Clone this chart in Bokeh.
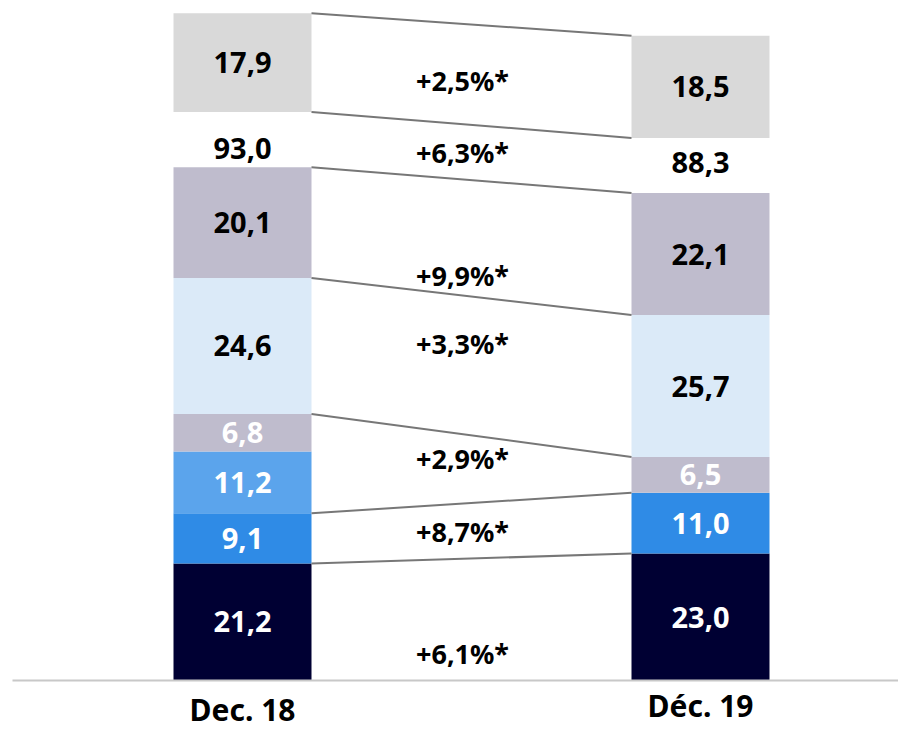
from bokeh.plotting import figure
from bokeh.models import Range1d
from bokeh.embed import file_html
from bokeh.resources import INLINE
from bokeh.core.properties import value
import numpy as np

# ---------------- data ----------------
categories = ["Dec. 18", "Déc. 19"]

dec18_values = [21.2, 9.1, 11.2, 6.8, 24.6, 20.1]
dec18_colors = ["#000033", "#2f8be6", "#5ba4ec", "#bfbccd", "#dbeaf8", "#bfbccd"]
dec18_label_colors = ["white", "white", "white", "white", "black", "black"]

dec19_values = [23.0, 11.0, 6.5, 25.7, 22.1]
dec19_colors = ["#000033", "#2f8be6", "#bfbccd", "#dbeaf8", "#bfbccd"]
dec19_label_colors = ["white", "white", "white", "black", "black"]

top_values = [17.9, 18.5]          # separate grey block above the total
top_color = "#d9d9d9"

growth_labels = ["+6,1%*", "+8,7%*", "+2,9%*", "+3,3%*", "+9,9%*", "+6,3%*", "+2,5%*"]

# ---------------- layout constants ----------------
W, H = 898, 730
PX = 5.52                        # pixels per unit
BASE = 680                       # pixel row of the zero line
GAP = 10.0                       # room for the total label
BAR_X = [242, 700]               # bar centres (pixel x)
BAR_W = 138
TOTAL_DY = [3.4, 5.5]            # total label above bar top
GROWTH_X = 462
GROWTH_Y = [4.9, 27.0, 40.2, 61.1, 73.4, 95.7, 108.7]
CAT_Y = [-5.3, -4.5]
FONT = "Noto Sans"

def fmt(v):
    return f"{v:.1f}".replace(".", ",")

p = figure(width=W, height=H, output_backend="svg", toolbar_location=None,
           x_range=Range1d(0, W), y_range=Range1d(-(H - BASE) / PX, BASE / PX),
           min_border=0, outline_line_color=None)
p.axis.visible = False
p.grid.visible = False
p.background_fill_color = "white"
p.border_fill_color = "white"

bars = [
    (dec18_values, dec18_colors, dec18_label_colors),
    (dec19_values, dec19_colors, dec19_label_colors),
]

levels = []
for i, (vals, cols, lcols) in enumerate(bars):
    vals = np.array(vals)
    tops = np.cumsum(vals)
    bottoms = tops - vals
    xc = BAR_X[i]
    p.vbar(x=[xc] * len(vals), width=BAR_W, bottom=bottoms, top=tops,
           fill_color=cols, line_color=None)
    p.text(x=[xc] * len(vals), y=(tops + bottoms) / 2,
           text=[fmt(v) for v in vals], text_color=lcols,
           text_font=value(FONT), text_font_style="bold", text_font_size="29px",
           text_align="center", text_baseline="middle")
    total = tops[-1]
    p.text(x=[xc], y=[total + TOTAL_DY[i]], text=[fmt(total)], text_color="black",
           text_font=value(FONT), text_font_style="bold", text_font_size="29px",
           text_align="center", text_baseline="middle")
    gb = total + GAP
    gt = gb + top_values[i]
    p.vbar(x=[xc], width=BAR_W, bottom=[gb], top=[gt], fill_color=top_color, line_color=None)
    p.text(x=[xc], y=[(gb + gt) / 2], text=[fmt(top_values[i])], text_color="black",
           text_font=value(FONT), text_font_style="bold", text_font_size="29px",
           text_align="center", text_baseline="middle")
    levels.append(list(tops) + [gb, gt])

# connector levels: bar 1 skips the top of its 11,2 segment (index 2)
l18 = [levels[0][k] for k in (0, 1, 3, 4, 5, 6, 7)]
l19 = levels[1]
x0 = BAR_X[0] + BAR_W / 2
x1 = BAR_X[1] - BAR_W / 2
p.segment(x0=[x0] * len(l18), y0=l18, x1=[x1] * len(l19), y1=l19,
          line_color="#777777", line_width=2)

# baseline
p.segment(x0=[12], y0=[0], x1=[W], y1=[0], line_color="#c8c8c8", line_width=2)

# growth labels
p.text(x=[GROWTH_X] * len(growth_labels), y=GROWTH_Y, text=growth_labels,
       text_color="black", text_font=value(FONT), text_font_style="bold",
       text_font_size="27px", text_align="center", text_baseline="middle")

# category labels
p.text(x=BAR_X, y=CAT_Y, text=categories, text_color="black",
       text_font=value(FONT), text_font_style="bold", text_font_size="30px",
       text_align="center", text_baseline="middle")

open("out.html", "w").write(file_html(p, INLINE))
